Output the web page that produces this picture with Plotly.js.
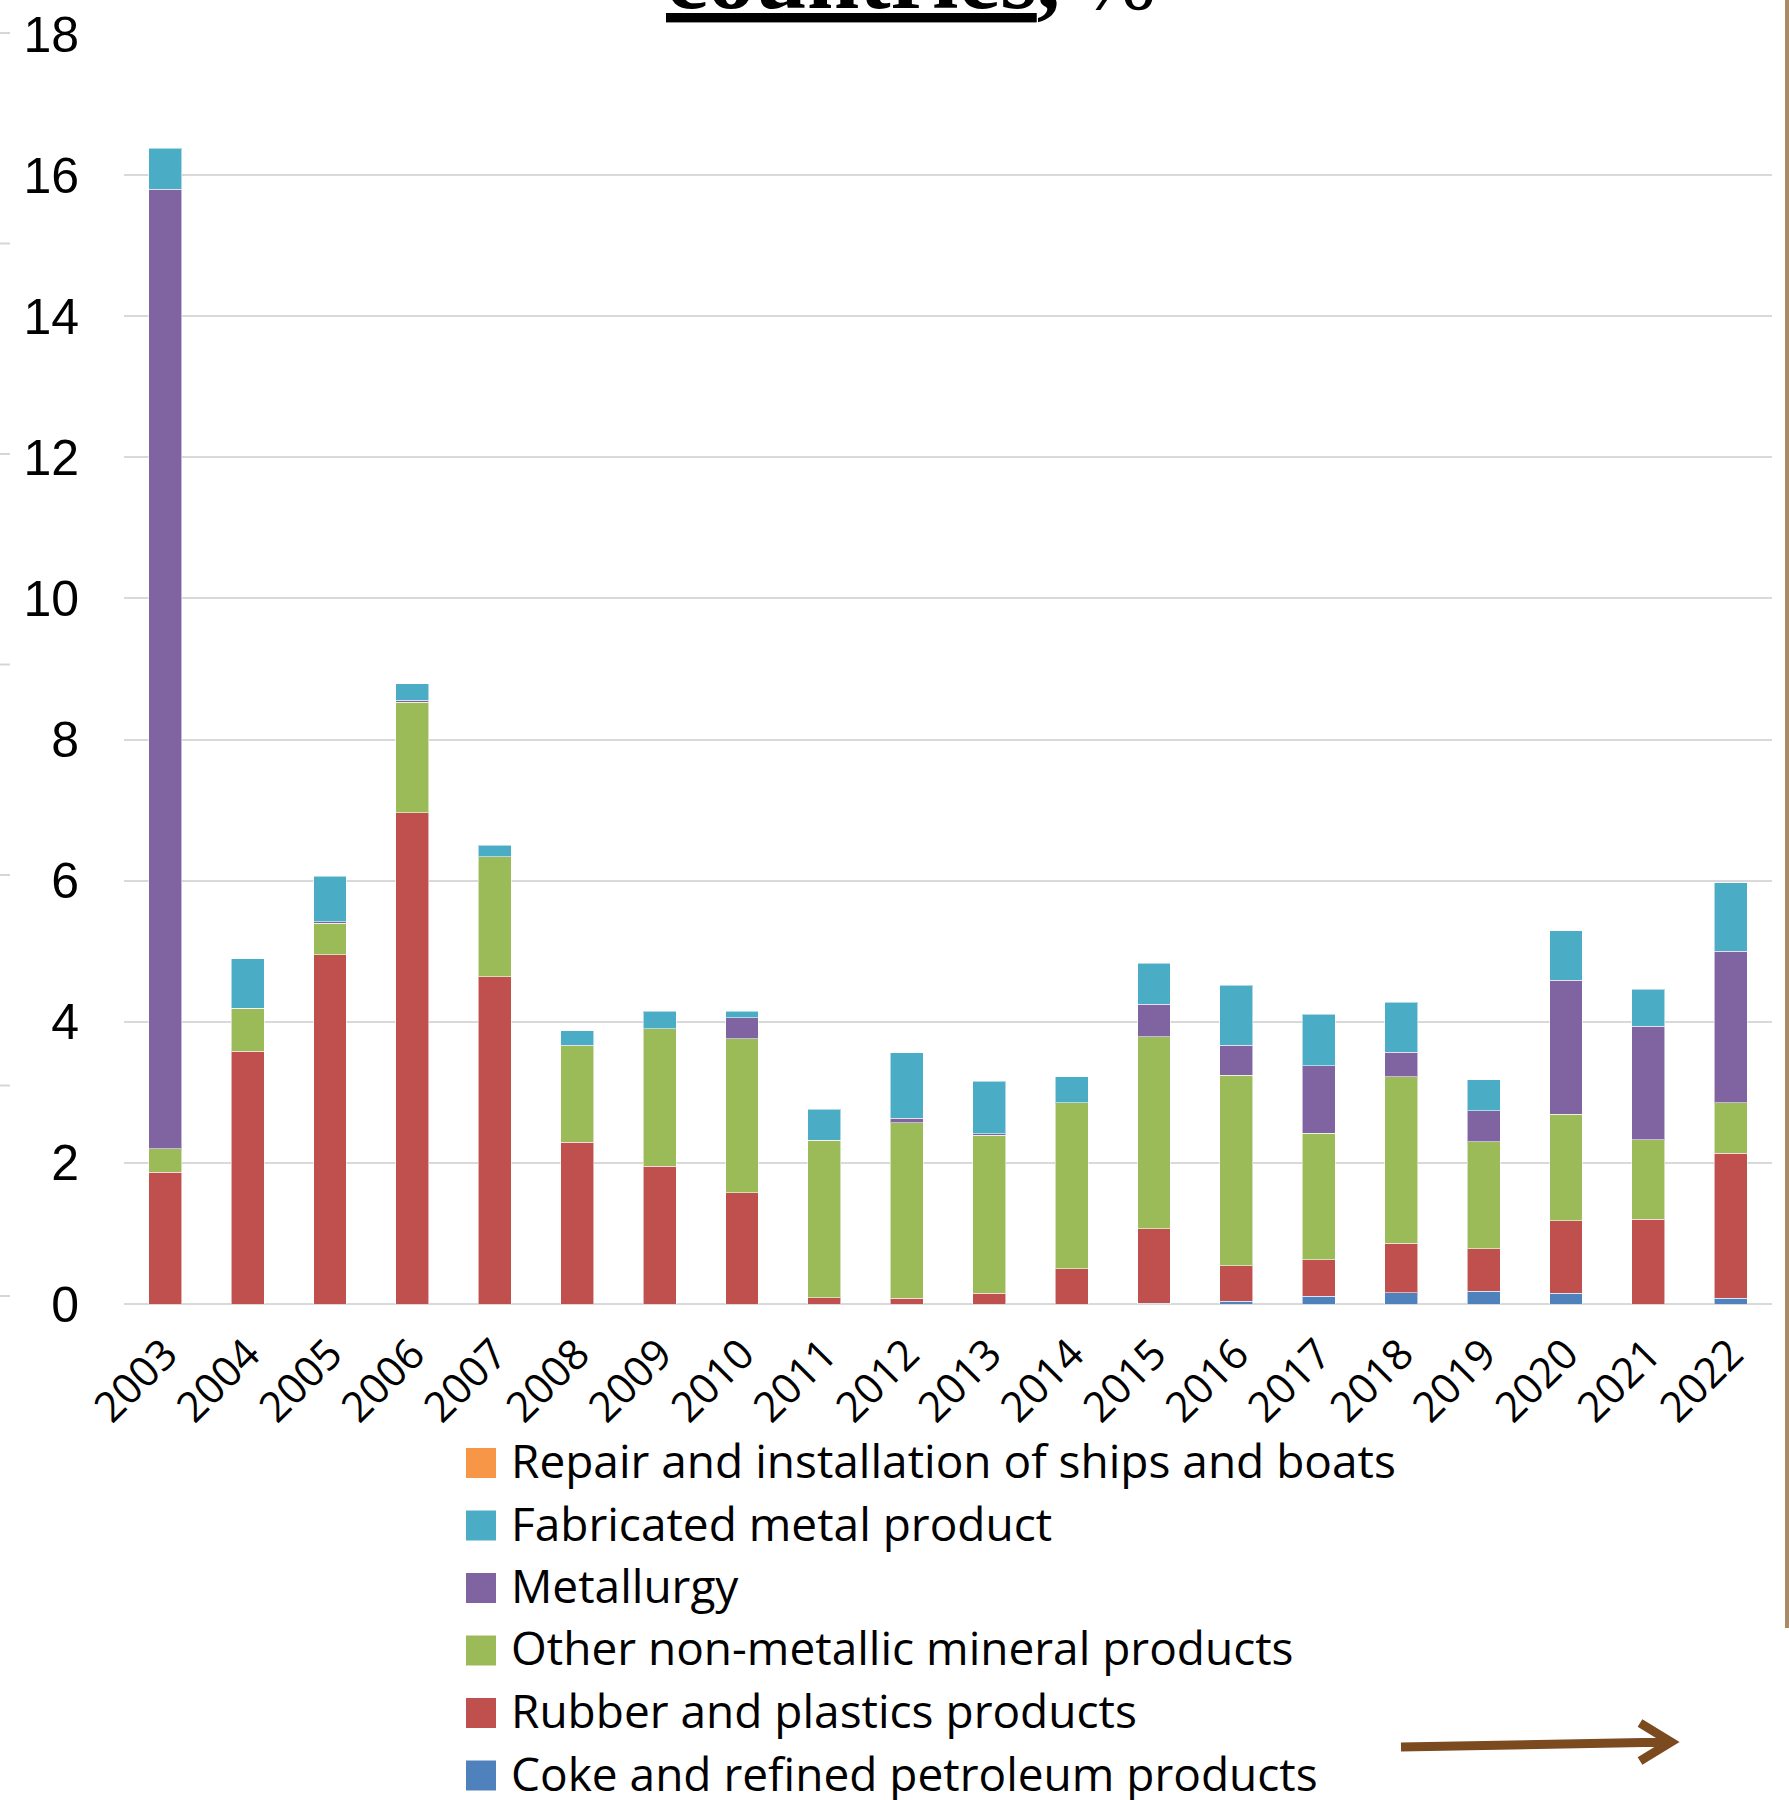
<!DOCTYPE html>
<html>
<head>
<meta charset="utf-8">
<script src="https://cdn.plot.ly/plotly-3.0.1.min.js"></script>
<style>
  html, body { margin: 0; padding: 0; background: #ffffff; }
  #chart { width: 1789px; height: 1800px; }
</style>
</head>
<body>
<div id="chart"></div>
<script>
// Years on the category axis
const years = ['2003','2004','2005','2006','2007','2008','2009','2010','2011','2012',
               '2013','2014','2015','2016','2017','2018','2019','2020','2021','2022'];

// Series, listed bottom of the stack first
const coke       = [0, 0, 0, 0, 0, 0, 0, 0, 0, 0, 0, 0, 0.01, 0.04, 0.11, 0.16, 0.18, 0.15, 0, 0.08];
const rubber     = [1.87, 3.58, 4.95, 6.96, 4.64, 2.29, 1.95, 1.58, 0.09, 0.08, 0.15, 0.50, 1.06, 0.50, 0.52, 0.70, 0.60, 1.03, 1.20, 2.06];
const nonMetal   = [0.33, 0.61, 0.45, 1.57, 1.70, 1.37, 1.95, 2.18, 2.23, 2.49, 2.24, 2.35, 2.72, 2.70, 1.79, 2.36, 1.52, 1.51, 1.13, 0.71];
const metallurgy = [13.60, 0, 0.02, 0.03, 0, 0.01, 0, 0.30, 0, 0.06, 0.02, 0, 0.46, 0.43, 0.96, 0.35, 0.44, 1.90, 1.61, 2.15];
const fabricated = [0.58, 0.70, 0.64, 0.23, 0.16, 0.20, 0.25, 0.09, 0.44, 0.93, 0.75, 0.37, 0.58, 0.85, 0.73, 0.71, 0.44, 0.70, 0.52, 0.97];
const repair     = [0, 0, 0, 0, 0, 0, 0, 0, 0, 0, 0, 0, 0, 0, 0, 0, 0, 0, 0, 0];

const seriesNames = [
  'Coke and refined petroleum products',
  'Rubber and plastics products',
  'Other non-metallic mineral products',
  'Metallurgy',
  'Fabricated metal product',
  'Repair and installation of ships and boats'
];
const seriesValues = [coke, rubber, nonMetal, metallurgy, fabricated, repair];
const seriesColors = ['#4F81BD', '#C0504D', '#9BBB59', '#8064A2', '#4BACC6', '#F79646'];

const yTicks = [0, 2, 4, 6, 8, 10, 12, 14, 16, 18];

// Page geometry used to place the decorations in paper units
const W = 1789, H = 1800;
const M = { l: 124, r: 17, t: 34, b: 496 };
const PW = W - M.l - M.r, PH = H - M.t - M.b;
const px = v => (v - M.l) / PW;
const py = v => (H - M.b - v) / PH;

const traces = seriesValues.map((vals, i) => ({
  type: 'bar',
  x: years,
  y: vals,
  name: seriesNames[i],
  marker: {
    color: seriesColors[i],
    line: { color: 'rgba(255,255,255,0.55)', width: vals.some(v => v > 0) ? 1 : 0 }
  },
  showlegend: false,
  hoverinfo: 'x+y+name'
}));

const labelFont = 'Open Sans, Noto Sans, sans-serif';

// Legend: squares and names, top row is the top of the stack
const shapes = [];
const annotations = [];
const rowTop = 1463, rowStep = 62.5, sq = 30, sqLeft = 466, textLeft = 509;
for (let k = 0; k < seriesNames.length; k++) {
  const i = seriesNames.length - 1 - k;
  const cy = rowTop + k * rowStep;
  shapes.push({
    type: 'rect', xref: 'paper', yref: 'paper',
    x0: px(sqLeft), x1: px(sqLeft + sq), y0: py(cy - sq / 2), y1: py(cy + sq / 2),
    fillcolor: seriesColors[i], line: { width: 0 }
  });
  annotations.push({
    xref: 'paper', yref: 'paper', x: px(textLeft), y: py(cy - 3),
    xanchor: 'left', yanchor: 'middle', showarrow: false,
    text: seriesNames[i],
    font: { family: labelFont, size: 46, color: '#000000' }
  });
}

// Title line, mostly above the page edge
const titleFont = 'Liberation Serif, Times New Roman, serif';
annotations.push({
  xref: 'paper', yref: 'paper', x: px(664), y: 1, xanchor: 'left', yanchor: 'bottom',
  yshift: 4, showarrow: false,
  text: '<b><u>countries</u>,</b>',
  font: { family: titleFont, size: 94, color: '#000000' }
});
annotations.push({
  xref: 'paper', yref: 'paper', x: px(1079), y: 1, xanchor: 'left', yanchor: 'bottom',
  yshift: 4, showarrow: false,
  text: '%',
  font: { family: titleFont, size: 90, color: '#000000' }
});

// Faint tick marks along the left page edge
[33, 243.5, 454, 664.5, 875, 1085.5, 1296].forEach(y => {
  shapes.push({
    type: 'line', xref: 'paper', yref: 'paper',
    x0: px(0), x1: px(10), y0: py(y), y1: py(y),
    line: { color: '#d6d6d6', width: 2 }
  });
});

// Brown rule at the right edge
shapes.push({
  type: 'line', xref: 'paper', yref: 'paper',
  x0: px(1787), x1: px(1787), y0: py(0), y1: py(1628),
  line: { color: '#a88c66', width: 4 }
});

// Arrow at the bottom right
shapes.push({
  type: 'path', xref: 'paper', yref: 'paper',
  path: `M${px(1401)},${py(1747)} L${px(1670)},${py(1742)} ` +
        `M${px(1640)},${py(1723)} L${px(1671)},${py(1742)} L${px(1640)},${py(1761)}`,
  line: { color: '#7b4a1f', width: 9 }
});

const layout = {
  width: W, height: H,
  margin: M,
  paper_bgcolor: '#ffffff',
  plot_bgcolor: '#ffffff',
  barmode: 'stack',
  bargap: 0.6,
  showlegend: false,
  xaxis: {
    type: 'category',
    range: [-0.5, 19.5],
    tickangle: -45,
    ticks: '',
    showgrid: false,
    showline: false,
    zeroline: false,
    tickfont: { family: labelFont, size: 42, color: '#000000' },
    ticklabelstandoff: 16,
    fixedrange: true
  },
  yaxis: {
    range: [0, 18],
    tickvals: yTicks,
    ticktext: yTicks.map(String),
    ticks: '',
    showgrid: true,
    gridcolor: '#d9d9d9',
    gridwidth: 2,
    zeroline: true,
    zerolinecolor: '#d9d9d9',
    zerolinewidth: 2,
    showline: false,
    tickfont: { family: 'Liberation Sans, Arial, sans-serif', size: 50, color: '#000000' },
    ticklabelstandoff: 44,
    fixedrange: true
  },
  shapes: shapes,
  annotations: annotations
};

Plotly.newPlot('chart', traces, layout, { displayModeBar: false, staticPlot: true });
</script>
</body>
</html>
